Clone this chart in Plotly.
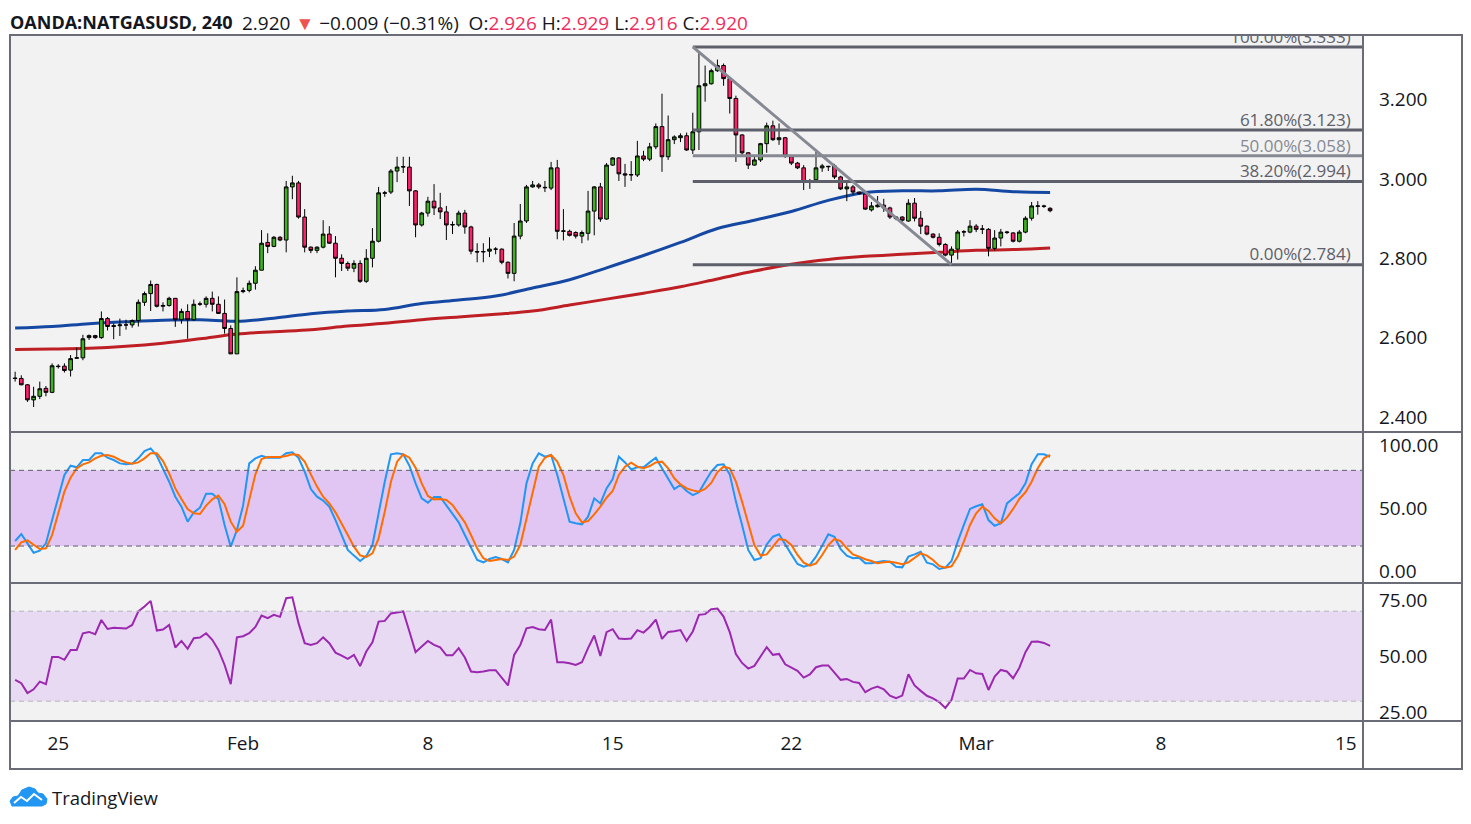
import pandas as pd
import plotly.graph_objects as go
from plotly.subplots import make_subplots

# 4h candles, OANDA:NATGASUSD
open_ = [2.498, 2.497, 2.481, 2.443, 2.452, 2.472, 2.462, 2.528, 2.528, 2.518,
         2.548, 2.549, 2.600, 2.605, 2.600, 2.648, 2.628, 2.630, 2.632, 2.632,
         2.643, 2.689, 2.711, 2.734, 2.679, 2.681, 2.699, 2.645, 2.666, 2.645,
         2.684, 2.684, 2.699, 2.684, 2.661, 2.623, 2.559, 2.716, 2.719, 2.737,
         2.770, 2.840, 2.830, 2.853, 2.846, 2.980, 2.990, 2.904, 2.828, 2.820,
         2.828, 2.861, 2.838, 2.800, 2.787, 2.775, 2.787, 2.742, 2.800, 2.843,
         2.964, 2.967, 3.020, 3.030, 3.030, 2.970, 2.884, 2.914, 2.944, 2.927,
         2.917, 2.884, 2.884, 2.914, 2.879, 2.817, 2.816, 2.818, 2.823, 2.823,
         2.790, 2.762, 2.856, 2.894, 2.980, 2.985, 2.979, 2.977, 3.028, 2.868,
         2.868, 2.865, 2.856, 2.863, 2.919, 2.980, 2.899, 3.035, 3.053, 3.013,
         3.010, 3.010, 3.058, 3.050, 3.081, 3.132, 3.056, 3.099, 3.104, 3.109,
         3.073, 3.119, 3.235, 3.240, 3.273, 3.286, 3.253, 3.203, 3.111, 3.066,
         3.035, 3.048, 3.089, 3.134, 3.099, 3.104, 3.056, 3.040, 3.028, 2.993,
         2.998, 3.028, 3.032, 3.033, 3.005, 2.975, 2.980, 2.967, 2.962, 2.922,
         2.930, 2.934, 2.927, 2.900, 2.904, 2.894, 2.939, 2.901, 2.881, 2.861,
         2.853, 2.835, 2.808, 2.823, 2.866, 2.866, 2.881, 2.873, 2.873, 2.825,
         2.851, 2.865, 2.864, 2.843, 2.866, 2.901, 2.931, 2.932, 2.926]
high = [2.514, 2.505, 2.483, 2.476, 2.489, 2.478, 2.535, 2.533, 2.535, 2.556,
        2.575, 2.607, 2.608, 2.607, 2.666, 2.652, 2.636, 2.648, 2.645, 2.646,
        2.696, 2.716, 2.744, 2.736, 2.689, 2.703, 2.700, 2.673, 2.684, 2.696,
        2.691, 2.704, 2.716, 2.704, 2.696, 2.631, 2.752, 2.726, 2.744, 2.780,
        2.871, 2.863, 2.856, 2.856, 2.995, 3.008, 2.995, 2.924, 2.830, 2.830,
        2.896, 2.881, 2.856, 2.810, 2.792, 2.795, 2.795, 2.823, 2.876, 2.980,
        2.970, 3.025, 3.056, 3.056, 3.056, 2.972, 2.917, 2.955, 2.987, 2.965,
        2.932, 2.893, 2.920, 2.922, 2.882, 2.838, 2.838, 2.853, 2.828, 2.825,
        2.792, 2.889, 2.937, 2.985, 2.995, 2.990, 2.995, 3.043, 3.048, 2.924,
        2.872, 2.868, 2.870, 2.970, 2.982, 2.990, 3.040, 3.055, 3.055, 3.038,
        3.045, 3.096, 3.071, 3.091, 3.140, 3.215, 3.160, 3.110, 3.115, 3.117,
        3.167, 3.322, 3.286, 3.278, 3.301, 3.291, 3.255, 3.210, 3.113, 3.068,
        3.058, 3.091, 3.142, 3.147, 3.140, 3.106, 3.060, 3.043, 3.035, 3.000,
        3.068, 3.038, 3.033, 3.038, 3.008, 2.995, 2.985, 2.968, 2.965, 2.942,
        2.957, 2.950, 2.930, 2.906, 2.906, 2.949, 2.952, 2.919, 2.883, 2.863,
        2.863, 2.838, 2.830, 2.871, 2.871, 2.896, 2.886, 2.884, 2.876, 2.871,
        2.874, 2.869, 2.866, 2.871, 2.906, 2.942, 2.944, 2.935, 2.929]
low = [2.489, 2.480, 2.438, 2.425, 2.445, 2.452, 2.460, 2.522, 2.512, 2.502,
       2.547, 2.543, 2.594, 2.597, 2.597, 2.618, 2.596, 2.604, 2.620, 2.625,
       2.628, 2.680, 2.667, 2.676, 2.666, 2.678, 2.627, 2.635, 2.597, 2.643,
       2.680, 2.676, 2.666, 2.660, 2.610, 2.559, 2.559, 2.712, 2.714, 2.721,
       2.770, 2.813, 2.828, 2.843, 2.815, 2.949, 2.900, 2.815, 2.813, 2.813,
       2.825, 2.836, 2.752, 2.768, 2.768, 2.765, 2.738, 2.738, 2.777, 2.840,
       2.955, 2.962, 2.992, 3.015, 2.932, 2.853, 2.880, 2.905, 2.909, 2.899,
       2.846, 2.861, 2.880, 2.862, 2.810, 2.790, 2.790, 2.803, 2.810, 2.785,
       2.749, 2.742, 2.848, 2.889, 2.978, 2.975, 2.967, 2.972, 2.848, 2.845,
       2.855, 2.850, 2.838, 2.845, 2.858, 2.892, 2.897, 3.033, 2.995, 2.980,
       2.995, 3.005, 3.045, 3.045, 3.075, 3.018, 3.048, 3.088, 3.093, 3.071,
       3.063, 3.073, 3.195, 3.238, 3.270, 3.235, 3.165, 3.043, 3.056, 3.025,
       3.033, 3.043, 3.066, 3.096, 3.086, 3.053, 3.035, 3.025, 2.972, 2.975,
       2.995, 3.018, 3.020, 3.000, 2.972, 2.944, 2.960, 2.960, 2.922, 2.918,
       2.928, 2.917, 2.899, 2.896, 2.892, 2.892, 2.893, 2.861, 2.858, 2.850,
       2.830, 2.805, 2.784, 2.797, 2.855, 2.863, 2.866, 2.861, 2.805, 2.820,
       2.830, 2.861, 2.840, 2.840, 2.863, 2.895, 2.910, 2.927, 2.916]
close = [2.497, 2.481, 2.443, 2.452, 2.471, 2.462, 2.529, 2.527, 2.517, 2.547,
         2.549, 2.597, 2.605, 2.600, 2.648, 2.628, 2.630, 2.632, 2.632, 2.643,
         2.689, 2.711, 2.734, 2.679, 2.681, 2.699, 2.645, 2.666, 2.645, 2.684,
         2.685, 2.699, 2.684, 2.661, 2.623, 2.559, 2.716, 2.718, 2.737, 2.770,
         2.838, 2.830, 2.853, 2.846, 2.980, 2.990, 2.904, 2.828, 2.820, 2.828,
         2.861, 2.838, 2.800, 2.787, 2.775, 2.787, 2.742, 2.800, 2.843, 2.965,
         2.965, 3.020, 3.030, 3.031, 2.970, 2.884, 2.914, 2.944, 2.927, 2.917,
         2.884, 2.885, 2.914, 2.879, 2.818, 2.816, 2.817, 2.823, 2.823, 2.790,
         2.762, 2.856, 2.894, 2.980, 2.985, 2.980, 2.978, 3.028, 2.868, 2.869,
         2.858, 2.856, 2.865, 2.919, 2.980, 2.899, 3.035, 3.053, 3.013, 3.010,
         3.011, 3.058, 3.050, 3.081, 3.132, 3.056, 3.099, 3.106, 3.109, 3.073,
         3.119, 3.235, 3.240, 3.273, 3.286, 3.253, 3.203, 3.111, 3.066, 3.035,
         3.048, 3.089, 3.134, 3.099, 3.104, 3.058, 3.040, 3.028, 2.992, 2.992,
         3.028, 3.033, 3.031, 3.005, 2.975, 2.980, 2.967, 2.963, 2.924, 2.932,
         2.934, 2.927, 2.904, 2.904, 2.896, 2.939, 2.901, 2.881, 2.861, 2.853,
         2.835, 2.808, 2.823, 2.866, 2.867, 2.881, 2.873, 2.874, 2.825, 2.851,
         2.866, 2.866, 2.843, 2.866, 2.901, 2.932, 2.932, 2.931, 2.920]

# moving averages, read once per trading day (every 6th bar)
ma_blue = [2.624, 2.628, 2.635, 2.640, 2.644, 2.645, 2.641, 2.649, 2.660, 2.667,
           2.671, 2.686, 2.695, 2.705, 2.725, 2.746, 2.776, 2.807, 2.840, 2.875,
           2.896, 2.918, 2.946, 2.966, 2.970, 2.970, 2.974, 2.968, 2.966]
ma_red = [2.570, 2.571, 2.573, 2.578, 2.586, 2.597, 2.609, 2.615, 2.620, 2.629,
          2.636, 2.645, 2.652, 2.659, 2.667, 2.682, 2.697, 2.712, 2.728, 2.748,
          2.768, 2.785, 2.797, 2.805, 2.810, 2.815, 2.820, 2.822, 2.826]

stoch_k = [24.0, 29.5, 22.1, 14.7, 16.3, 22.1, 40.6, 57.8, 76.3, 83.7,
           82.4, 88.2, 88.2, 93.5, 93.5, 90.0, 88.2, 85.5, 84.8, 85.3,
           89.5, 95.3, 97.4, 91.6, 81.6, 71.0, 59.1, 51.2, 39.3, 46.7,
           50.4, 61.5, 61.5, 57.3, 36.7, 19.5, 32.7, 52.0, 85.5, 89.5,
           91.6, 90.0, 90.0, 90.0, 93.5, 94.3, 90.0, 78.9, 65.2, 59.1,
           56.0, 51.2, 40.6, 28.7, 16.9, 12.4, 8.2, 12.0, 20.8, 45.9,
           71.0, 92.7, 93.5, 92.7, 83.7, 69.7, 57.8, 54.4, 58.9, 58.9,
           52.5, 45.9, 38.8, 28.7, 18.2, 8.9, 7.1, 9.7, 11.3, 9.7,
           7.1, 16.9, 38.0, 69.7, 85.5, 93.5, 90.8, 92.2, 76.3, 57.8,
           39.3, 38.0, 37.2, 43.3, 57.8, 53.8, 65.7, 73.1, 90.8, 86.3,
           80.8, 82.4, 82.4, 86.3, 90.0, 81.6, 73.7, 65.2, 68.4, 63.6,
           60.4, 62.6, 71.0, 79.0, 84.2, 84.8, 76.8, 55.2, 36.7, 16.9,
           8.9, 10.3, 21.3, 27.4, 29.3, 20.8, 13.4, 5.8, 3.6, 5.0,
           11.6, 20.3, 29.3, 27.4, 17.6, 12.4, 10.3, 10.8, 6.3, 6.3,
           7.1, 8.1, 7.6, 3.6, 3.1, 11.6, 13.4, 15.5, 6.8, 5.5,
           1.8, 2.9, 8.1, 23.5, 36.7, 49.4, 51.5, 53.1, 40.6, 36.1,
           38.0, 53.8, 57.8, 61.8, 69.7, 84.8, 92.7, 92.7, 90.8]
stoch_d = [16.9, 22.9, 24.5, 21.3, 17.6, 18.2, 28.7, 45.9, 63.1, 74.2,
           81.6, 84.8, 86.3, 89.5, 91.6, 92.2, 90.8, 88.2, 86.3, 85.3,
           86.3, 89.5, 93.5, 93.5, 87.4, 77.6, 65.7, 57.3, 49.4, 45.9,
           45.4, 52.0, 57.0, 59.9, 53.1, 39.3, 31.4, 36.1, 57.3, 76.8,
           89.0, 90.6, 90.6, 90.6, 91.4, 92.7, 92.2, 86.9, 76.8, 67.1,
           59.1, 53.8, 46.7, 37.2, 28.7, 19.5, 12.6, 11.3, 14.2, 26.1,
           47.2, 71.0, 86.9, 92.7, 90.0, 82.1, 69.7, 59.7, 57.0, 57.3,
           56.5, 52.5, 45.9, 38.8, 28.7, 18.2, 10.3, 8.1, 8.9, 9.7,
           8.9, 11.6, 20.8, 42.0, 63.1, 82.9, 90.0, 92.2, 86.9, 76.3,
           59.1, 45.9, 38.8, 39.8, 45.1, 51.2, 58.3, 63.6, 76.3, 82.9,
           86.1, 82.9, 81.6, 83.4, 86.3, 86.9, 81.6, 73.7, 68.9, 65.7,
           64.1, 63.1, 65.2, 70.0, 78.6, 82.9, 81.6, 71.0, 55.2, 38.0,
           20.8, 12.4, 13.4, 19.5, 25.6, 24.8, 20.8, 12.9, 6.8, 4.4,
           6.3, 12.9, 20.8, 25.6, 24.0, 18.2, 13.4, 11.6, 9.5, 8.1,
           6.3, 7.1, 7.6, 6.8, 5.5, 7.1, 10.3, 14.2, 12.4, 8.9,
           4.2, 2.9, 3.9, 11.6, 23.5, 36.7, 45.9, 51.2, 47.8, 42.0,
           38.0, 42.5, 49.4, 57.3, 62.6, 71.0, 81.6, 89.5, 92.2]
rsi = [39.5, 38.0, 33.6, 35.3, 38.7, 37.6, 49.7, 49.7, 48.4, 52.8,
       52.8, 60.2, 60.8, 59.8, 66.1, 62.1, 62.6, 62.3, 62.3, 63.9,
       69.9, 72.1, 74.6, 61.4, 61.9, 63.9, 53.9, 56.8, 53.3, 58.0,
       58.3, 60.2, 57.3, 52.8, 46.1, 37.6, 58.4, 58.9, 60.2, 63.0,
       68.1, 66.9, 68.4, 67.5, 75.8, 76.2, 64.7, 55.8, 55.0, 55.8,
       58.4, 55.8, 51.6, 50.3, 48.8, 50.6, 45.6, 52.1, 56.2, 65.4,
       65.7, 69.0, 69.6, 69.9, 61.0, 51.8, 54.3, 56.8, 55.0, 53.9,
       50.4, 50.4, 53.6, 49.4, 43.2, 42.9, 43.2, 43.8, 43.8, 40.2,
       37.0, 50.6, 55.0, 62.4, 63.0, 62.0, 61.7, 66.3, 47.3, 47.3,
       46.9, 46.1, 47.3, 53.6, 59.2, 50.1, 60.7, 62.0, 57.9, 57.7,
       57.9, 61.6, 60.5, 63.0, 66.3, 57.7, 60.8, 61.1, 61.6, 56.8,
       61.0, 68.4, 68.7, 70.9, 71.2, 67.6, 60.7, 50.9, 47.0, 44.5,
       45.7, 49.9, 54.0, 50.6, 51.0, 46.4, 45.0, 43.5, 40.5, 41.9,
       45.1, 45.9, 45.9, 42.9, 39.5, 39.9, 38.6, 38.1, 34.0, 35.6,
       36.5, 35.3, 32.5, 31.3, 32.5, 42.0, 37.0, 34.6, 32.4, 31.3,
       29.6, 27.0, 30.6, 40.1, 40.1, 43.9, 42.4, 42.1, 35.0, 41.0,
       43.9, 43.2, 40.2, 44.8, 51.8, 56.4, 56.5, 55.9, 54.6]

# fibonacci retracement drawn on the chart
fib_high = 3.333
fib_low = 2.784
fib_levels = [1.0, 0.618, 0.5, 0.382, 0.0]
fib_start_bar = 110
fib_end_bar = 152

tick_dates = ["2021-01-25", "2021-02-01", "2021-02-08", "2021-02-15",
              "2021-02-22", "2021-03-01", "2021-03-08", "2021-03-15"]
tick_labels = ["25", "Feb", "8", "15", "22", "Mar", "8", "15"]

header_values = ["2.920", "\u22120.009 (\u22120.31%)", "2.926", "2.929", "2.916", "2.920"]

# bar timestamps: 6 bars per weekday, one bar missing on the holiday week
missing_bar = pd.Timestamp("2021-02-19 20:00")
times = []
t = pd.Timestamp("2021-01-21 20:00")
while len(times) < len(close):
    if t.weekday() < 5 and t != missing_bar:
        times.append(t)
    t += pd.Timedelta(hours=4)

x_left = pd.Timestamp("2021-01-21 16:40")
x_right = pd.Timestamp("2021-03-15 11:10")

GREEN = "#3fb21f"
RED = "#ff1f6b"
FIB = "#5d606b"
FIB_LIGHT = "#868993"
TXT = "#131722"
FONT = "Open Sans"

fig = make_subplots(rows=3, cols=1, shared_xaxes=True, vertical_spacing=0.0)

# moving averages (drawn under candles)
fig.add_trace(go.Scatter(x=times[::6], y=ma_blue, mode="lines", line=dict(color="#1548a3", width=3, shape="spline"),
                         zorder=-1, hoverinfo="skip"), row=1, col=1)
fig.add_trace(go.Scatter(x=times[::6], y=ma_red, mode="lines", line=dict(color="#bd1f24", width=3, shape="spline"),
                         zorder=-1, hoverinfo="skip"), row=1, col=1)

fig.add_trace(go.Candlestick(
    x=times, open=open_, high=high, low=low, close=close,
    increasing=dict(fillcolor=GREEN, line=dict(color="#000000", width=1)),
    decreasing=dict(fillcolor=RED, line=dict(color="#000000", width=1)),
    whiskerwidth=0,
), row=1, col=1)

# fib levels
fib_prices = [fib_low + (fib_high - fib_low) * lv for lv in fib_levels]
label_x = x_right - pd.Timedelta(hours=8)
for lv, p in zip(fib_levels, fib_prices):
    col = FIB_LIGHT if lv == 0.5 else FIB
    fig.add_trace(go.Scatter(x=[times[fib_start_bar], x_right], y=[p, p], mode="lines",
                             line=dict(color=col, width=3), hoverinfo="skip"), row=1, col=1)
    fig.add_trace(go.Scatter(x=[label_x], y=[p], mode="text", text=[f"{lv*100:.2f}%({p:.3f})"],
                             textposition="top left", cliponaxis=True,
                             textfont=dict(size=17, color=col, family=FONT),
                             hoverinfo="skip"), row=1, col=1)

# trend line
fig.add_trace(go.Scatter(x=[times[fib_start_bar], times[fib_end_bar]], y=[fib_high, fib_low], mode="lines",
                         line=dict(color=FIB_LIGHT, width=3), hoverinfo="skip"), row=1, col=1)

# stochastic
fig.add_trace(go.Scatter(x=times, y=stoch_k, mode="lines", line=dict(color="#2196f3", width=2), hoverinfo="skip"),
              row=2, col=1)
fig.add_trace(go.Scatter(x=times, y=stoch_d, mode="lines", line=dict(color="#ff6d00", width=2), hoverinfo="skip"),
              row=2, col=1)

# rsi
fig.add_trace(go.Scatter(x=times, y=rsi, mode="lines", line=dict(color="#9c27b0", width=2), hoverinfo="skip"),
              row=3, col=1)

# band fills and dashed bands
fig.add_shape(type="rect", xref="x2 domain", yref="y2", x0=0, x1=1, y0=20, y1=80,
              fillcolor="#e1c6f4", line_width=0, layer="below")
fig.add_shape(type="rect", xref="x3 domain", yref="y3", x0=0, x1=1, y0=30, y1=70,
              fillcolor="#e8daf3", line_width=0, layer="below")
for yv in (20, 80):
    fig.add_shape(type="line", xref="x2 domain", yref="y2", x0=0, x1=1, y0=yv, y1=yv,
                  line=dict(color="#5d606b", width=1, dash="5px,4px"))
for yv in (30, 70):
    fig.add_shape(type="line", xref="x3 domain", yref="y3", x0=0, x1=1, y0=yv, y1=yv,
                  line=dict(color="#b2b5be", width=1, dash="5px,4px"))

# figure is placed 8px in from the page corner, so size and margins allow for it
OFF = 8
W, H = 1471 - OFF, 824 - OFF
ML, MT, MR, MB = 10 - OFF, 35 - OFF, 108, 103
pw, ph = W - ML - MR, H - MT - MB


def px(xp):
    return (xp - OFF - ML) / pw


def py(yp):
    return (H - MB - (yp - OFF)) / ph


frame = dict(color="#6a6d78", width=2)
fig.add_shape(type="rect", xref="paper", yref="paper", x0=px(10), x1=px(1462), y0=py(769), y1=py(35),
              line=frame, layer="above")
fig.add_shape(type="line", xref="paper", yref="paper", x0=1, x1=1, y0=py(769), y1=py(35), line=frame)
for yp in (432, 583, 721):
    fig.add_shape(type="line", xref="paper", yref="paper", x0=px(10), x1=px(1462), y0=py(yp), y1=py(yp), line=frame)

# TradingView logo
cloud = [(12, 806), (10, 801), (13, 797), (18, 796), (22, 790), (29, 787), (35, 789), (38, 793),
         (43, 794), (47, 799), (46, 804), (42, 806)]
zig = [(14, 803), (21, 797), (27, 801), (34, 794), (42, 800)]
fig.add_shape(type="path", xref="paper", yref="paper",
              path="M " + " L ".join(f"{px(a):.5f},{py(b):.5f}" for a, b in cloud) + " Z",
              fillcolor="#2196f3", line=dict(color="#2196f3", width=1))
fig.add_shape(type="path", xref="paper", yref="paper",
              path="M " + " L ".join(f"{px(a):.5f},{py(b):.5f}" for a, b in zig),
              line=dict(color="#ffffff", width=2))
fig.add_annotation(xref="paper", yref="paper", x=px(50), y=py(797), xanchor="left", yanchor="middle",
                   text="TradingView", showarrow=False, font=dict(size=18.5, color=TXT, family=FONT))

# header (kept inside the figure's top edge)
red = "#ef2d5e"
nb = "\u00a0"
quote = (f"{header_values[0]}{nb}<span style='color:#ef5350'>\u25bc</span>{nb}"
         f"{header_values[1]}{nb}{nb}O:<span style='color:{red}'>{header_values[2]}</span>{nb}"
         f"H:<span style='color:{red}'>{header_values[3]}</span>{nb}"
         f"L:<span style='color:{red}'>{header_values[4]}</span>{nb}"
         f"C:<span style='color:{red}'>{header_values[5]}</span>")
fig.add_annotation(xref="paper", yref="paper", x=px(9), y=py(9), xanchor="left", yanchor="top", borderpad=0,
                   text="<b>OANDA:NATGASUSD, 240</b>", showarrow=False,
                   font=dict(size=18, color=TXT, family=FONT))
fig.add_annotation(xref="paper", yref="paper", x=px(241), y=py(9), xanchor="left", yanchor="top", borderpad=0,
                   text=quote, showarrow=False, font=dict(size=19, color=TXT, family=FONT))

fig.update_xaxes(
    range=[x_left, x_right],
    rangebreaks=[dict(bounds=["sat", "mon"]), dict(values=[missing_bar], dvalue=4 * 3600 * 1000)],
    rangeslider_visible=False, showgrid=False, zeroline=False, showline=False,
    tickvals=tick_dates, ticktext=tick_labels, ticks="",
    tickfont=dict(size=19, color=TXT, family=FONT),
)
fig.update_xaxes(ticklabelstandoff=9, row=3, col=1)

axis_common = dict(side="right", showgrid=False, zeroline=False, showline=False, ticks="",
                   ticklabelstandoff=15, tickfont=dict(size=19, color=TXT, family=FONT))
fig.update_yaxes(domain=[py(432), 1], range=[2.362, 3.363], tickvals=[2.4, 2.6, 2.8, 3.0, 3.2],
                 tickformat=".3f", row=1, col=1, **axis_common)
fig.update_yaxes(domain=[py(583), py(433)], range=[-9.3, 109.6], tickvals=[0, 50, 100],
                 tickformat=".2f", row=2, col=1, **axis_common)
fig.update_yaxes(domain=[0, py(584)], range=[21.2, 82.1], tickvals=[25, 50, 75],
                 tickformat=".2f", row=3, col=1, **axis_common)

fig.update_layout(
    width=W, height=H,
    margin=dict(l=ML, r=MR, t=MT, b=MB),
    paper_bgcolor="#ffffff", plot_bgcolor="#f2f2f2",
    showlegend=False, boxgap=0.15,
    font=dict(family=FONT, color=TXT),
)

fig.write_html("out.html")
